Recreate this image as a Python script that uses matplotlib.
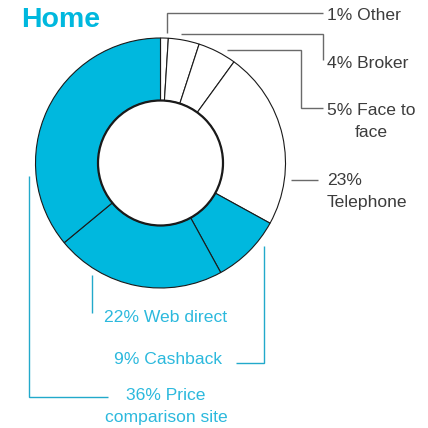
import matplotlib
matplotlib.use("Agg")
import matplotlib.pyplot as plt
from matplotlib.patches import Circle

# Home insurance - how policies were bought (share, %)
channels = ["Other", "Broker", "Face to face", "Telephone",
            "Cashback", "Web direct", "Price comparison site"]
shares = [1, 4, 5, 23, 9, 22, 36]
labels = ["1% Other", "4% Broker", "5% Face to\nface", "23%\nTelephone",
          "9% Cashback", "22% Web direct", "36% Price\ncomparison site"]
online = [False, False, False, False, True, True, True]

CYAN = "#00b8de"
CYAN_TXT = "#2cb9dd"
CYAN_LINE = "#22a9cb"
GREY_TXT = "#3c3c3c"
GREY_LINE = "#6a6a6a"

plt.rcParams["font.family"] = ["Liberation Sans", "DejaVu Sans"]

fig = plt.figure(figsize=(4.28, 4.28), dpi=100)
ax = fig.add_axes([0, 0, 1, 1])


def Y(y):
    # pixel row (from top) -> data y
    return 428 - y


cx, cy, r_out = 160.5, Y(163), 125
colors = [CYAN if o else "white" for o in online]
ax.pie(shares, colors=colors, startangle=90, counterclock=False,
       center=(cx, cy), radius=r_out, frame=True,
       wedgeprops=dict(width=r_out * 0.5, edgecolor="#1a1a1a", linewidth=0.8))
ax.set_xlim(0, 428)
ax.set_ylim(0, 428)
ax.set_aspect("equal")
ax.axis("off")
ax.add_patch(Circle((cx, cy), r_out * 0.5, facecolor="white",
                    edgecolor="#1a1a1a", linewidth=1.6, zorder=5))

# leader lines (pixel coords)
leaders = [
    [(167, 33), (167, 13), (323, 13)],
    [(181, 33.5), (323, 33.5), (323, 60)],
    [(227, 50), (301, 50), (301, 108), (323, 108)],
    [(291, 180), (318, 180)],
    [(264, 246), (264, 363), (236, 363)],
    [(92, 275), (92, 313)],
    [(29, 176), (29, 397), (108, 397)],
]
for pts, o in zip(leaders, online):
    xs = [p[0] for p in pts]
    ys = [Y(p[1]) for p in pts]
    ax.plot(xs, ys, color=CYAN_LINE if o else GREY_LINE, lw=1.0,
            solid_capstyle="butt", solid_joinstyle="miter")

# label placement: x, y (pixel), ha, multi-line alignment
spots = [
    (327, 15, "left", "left"),
    (327, 63, "left", "left"),
    (327, 121.5, "left", "center"),
    (327, 191.5, "left", "left"),
    (222, 360, "right", "right"),
    (166, 317, "center", "center"),
    (166, 406.5, "center", "center"),
]
for lab, (x, y, ha, ma), o in zip(labels, spots, online):
    ax.text(x, Y(y), lab, ha=ha, va="center", multialignment=ma,
            fontsize=12.6, linespacing=1.55,
            color=CYAN_TXT if o else GREY_TXT)

ax.text(21, Y(20), "Home", ha="left", va="center", fontsize=20.5,
        fontweight="bold", color=CYAN)

fig.savefig("out.png", dpi=100)
